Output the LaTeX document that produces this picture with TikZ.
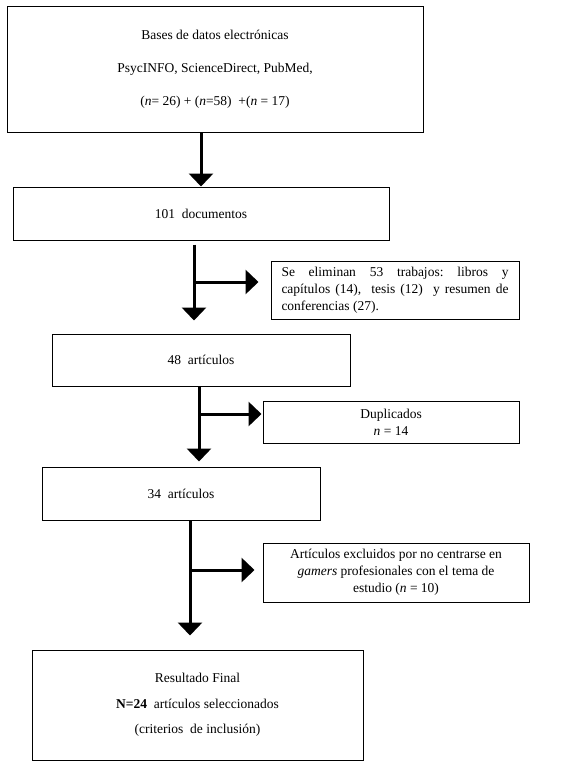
\documentclass[tikz,border=0pt]{standalone}
\usepackage{fontspec}
\setmainfont{Liberation Serif}
\usetikzlibrary{arrows.meta}
\definecolor{black}{RGB}{0,0,0}
\frenchspacing

\tikzset{
	box/.style={rectangle,draw=black,line width=1pt,inner sep=0pt,align=center,
		font=\fontsize{13.5}{17}\selectfont},
	flow/.style={black,line width=3pt,-{Triangle[width=24pt,length=13pt]}}
}

\begin{document}
\begin{tikzpicture}[x=1pt,y=-1pt]
	\useasboundingbox (0,0) rectangle (565,768);
	\node[box,minimum width=416pt,minimum height=125pt] (b1) at (215,69.5) {Bases de datos electrónicas\\[16pt]PsycINFO, ScienceDirect, PubMed,\\[16pt](\textit{n}= 26) + (\textit{n}=58) \ +(\textit{n} = 17)};
	\node[box,minimum width=376pt,minimum height=53pt] (b2) at (201,213.5) {101 \ documentos};
	\node[box,minimum width=248pt,minimum height=58pt,text width=227pt,align=justify] (s1) at (395,290) {Se eliminan 53 trabajos: libros y\linebreak capítulos (14), \ tesis (12) \ y resumen de\linebreak conferencias (27).};
	\node[box,minimum width=298pt,minimum height=52pt] (b3) at (201,360) {48 \ artículos};
	\node[box,minimum width=256pt,minimum height=42pt] (s2) at (391,422) {Duplicados\\\textit{n} = 14};
	\node[box,minimum width=278pt,minimum height=53pt] (b4) at (181,493.5) {34 \ artículos};
	\node[box,minimum width=266pt,minimum height=59pt] (s3) at (396,572.5) {Artículos excluidos por no centrarse en\\\textit{gamers} profesionales con el tema de\\estudio (\textit{n} = 10)};
	\node[box,minimum width=331pt,minimum height=110pt] (b5) at (197.5,705) {Resultado Final\\[8.5pt]\textbf{N=24} \ artículos seleccionados\\[8.5pt](criterios \ de inclusión)};
	
	\coordinate (j1) at (194,282);
	\coordinate (j2) at (199,414);
	\coordinate (j3) at (190,570);
	
	\draw[flow] (b1.south -| b2.north) -- (b2.north);
	\foreach \u/\v/\j/\a/\b in {b2/b3/j1/4pt/13pt,b3/b4/j2/0pt/5pt,b4/b5/j3/0pt/14pt}
		\draw[flow,shorten <=\a,shorten >=\b] (\u.south -| \j) -- (\v.north -| \j);
	\foreach \j/\s/\g in {j1/s1/12pt,j2/s2/1pt,j3/s3/8pt}
		\draw[flow,shorten >=\g] (\j) -- (\s.west |- \j);
\end{tikzpicture}
\end{document}
